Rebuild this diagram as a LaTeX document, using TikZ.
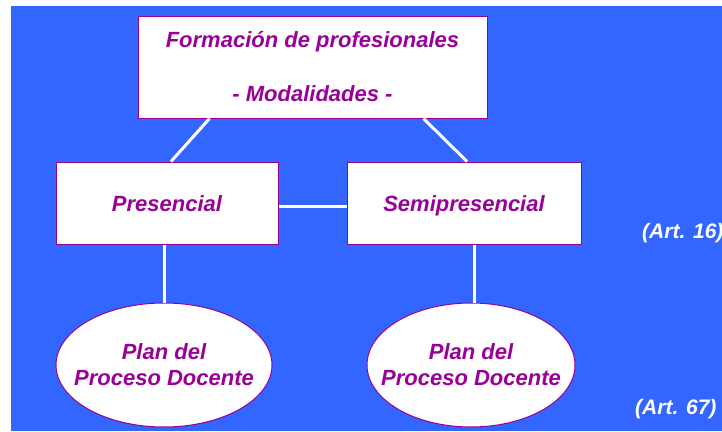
\documentclass[tikz,border=0pt]{standalone}
\usepackage{fontspec}
\setmainfont{Liberation Sans}
\usetikzlibrary{shapes.geometric}
\definecolor{bgblue}{RGB}{51,102,255}
\definecolor{purp}{RGB}{153,0,153}
\tikzset{
  box/.style={draw=purp, line width=1pt, fill=white, rectangle, inner sep=0pt},
  ebox/.style={draw=purp, line width=1pt, fill=white, ellipse, inner sep=0pt},
  txt/.style={text=purp, font=\fontsize{22}{26}\selectfont\bfseries\itshape, align=center, inner sep=0pt},
  art/.style={text=white, font=\fontsize{21}{25}\selectfont\bfseries\itshape, inner sep=0pt, anchor=base west},
  conn/.style={draw=white, line width=3pt}
}
\begin{document}
\begin{tikzpicture}[x=1pt,y=-1pt]
\useasboundingbox (0,0) rectangle (722,431);
\fill[white] (0,0) rectangle (722,431);
\fill[bgblue] (11,6) rectangle (722,431);
% boxes
\node[box, minimum width=349pt, minimum height=102pt] (top) at (312.5,67) {};
\node[txt] (toptext) at (top.center) {Formación de profesionales\\[28pt]- Modalidades -};
\node[box, minimum width=222pt, minimum height=82pt] (pres) at (167,203) {};
\node[txt, anchor=base] (prestext) at ([yshift=-8pt]pres.center) {Presencial};
\node[box, minimum width=234pt, minimum height=82pt] (semi) at (464,203) {};
\node[txt, anchor=base] (semitext) at ([yshift=-8pt]semi.center) {Semipresencial};
\node[ebox, minimum width=216pt, minimum height=124pt] (e1) at (164,365) {};
\node[txt] (e1text) at (e1.center) {Plan del\\Proceso Docente};
\node[ebox, minimum width=208pt, minimum height=124pt] (e2) at (471,365) {};
\node[txt] (e2text) at (e2.center) {Plan del\\Proceso Docente};
% connectors
\draw[conn] ([xshift=72pt]top.south west) -- ([xshift=4pt]pres.north);
\draw[conn] ([xshift=286pt]top.south west) -- ([xshift=3pt]semi.north);
\draw[conn] ([yshift=-3pt]pres.east) -- ([yshift=-3pt]semi.west);
\draw[conn] ([xshift=-3pt]pres.south) -- (e1.north);
\draw[conn] ([xshift=10pt]semi.south) -- ([xshift=10pt]semi.south |- e2.north);
% article labels
\node[art] (a16) at (642,238) {(Art. 16)};
\node[art] (a67) at (635,414) {(Art. 67)};
\end{tikzpicture}
\end{document}
